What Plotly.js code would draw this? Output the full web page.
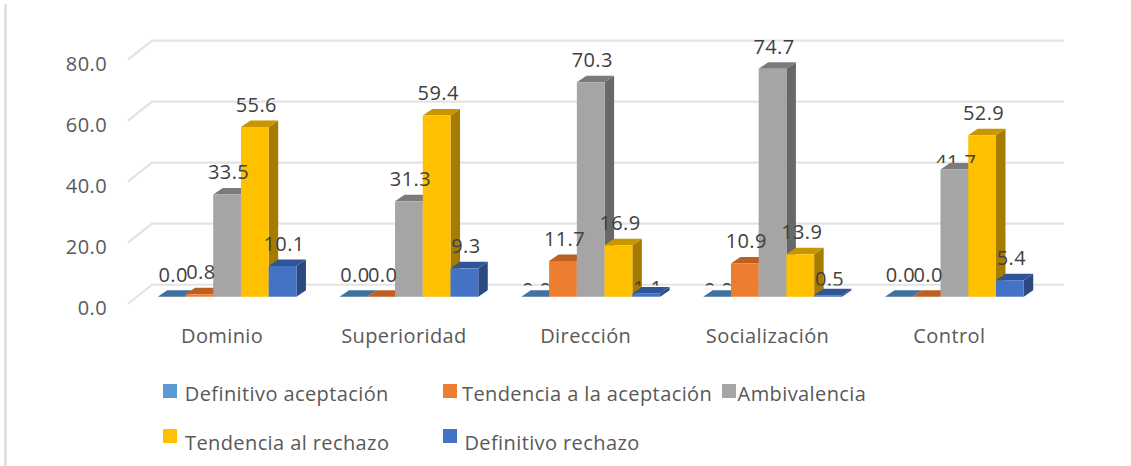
<!DOCTYPE html>
<html><head><meta charset="utf-8">
<script src="https://cdn.plot.ly/plotly-3.0.1.min.js"></script>
<style>html,body{margin:0;padding:0;background:#fff}#c{width:1131px;height:466px}
#c svg text{letter-spacing:.4px}</style>
</head><body><div id="c"></div>
<script>
const categories = ["Dominio","Superioridad","Dirección","Socialización","Control"];
const seriesNames = ["Definitivo aceptación","Tendencia a la aceptación","Ambivalencia","Tendencia al rechazo","Definitivo rechazo"];
const definitivoAceptacion = [0.0,0.0,0.0,0.0,0.0];
const tendenciaAceptacion = [0.8,0.0,11.7,10.9,0.0];
const ambivalencia = [33.5,31.3,70.3,74.7,41.7];
const tendenciaRechazo = [55.6,59.4,16.9,13.9,52.9];
const definitivoRechazo = [10.1,9.3,1.1,0.5,5.4];
const series = [definitivoAceptacion,tendenciaAceptacion,ambivalencia,tendenciaRechazo,definitivoRechazo];
const frontColors = ["#5B9BD5","#ED7D31","#A5A5A5","#FFC000","#4472C4"];
const topColors = ["#41719C","#BE5F22","#7B7B7B","#C79600","#2F5597"];
const sideColors = ["#35608A","#9E5020","#686868","#A67C00","#2A4A80"];
const yTicks = [0,20,40,60,80];

// layout geometry
const L=118,R=13,T=22,B=154,W=1131-L-R,H=466-T-B;
const xMin=-0.6,xMax=4.9,yMin=-5,yMax=90;
const pxX=W/(xMax-xMin), pxY=H/(yMax-yMin);
const gap=0.237, bw=(1-gap)/5;
const dx=9.5/pxX, dy=6.5/pxY;
const labelFontSize=20;
const labelLift=20/pxY;
// labels the reference places closer to their bar, as [series, category, px above the bar top]
const labelOverride=[[2,4,5],[0,2,5],[0,3,5],[4,2,3],[4,3,14]];
// labels cut off from below in the reference, as [series, category, cut line y in px]
const labelClip=[[2,4,163],[0,2,285.5],[0,3,285.5],[4,2,285.5],[4,3,285.5]];

const shapes=[];
const poly=(pts,color,layer)=>shapes.push({type:"path",xref:"x",yref:"y",layer:layer||"below",
  path:"M"+pts.map(p=>p[0]+","+p[1]).join("L")+"Z",fillcolor:color,line:{width:0}});

// gridlines on the back wall with slanted side wall
const gx0=(128-L)/pxX+xMin, gx1=(152-L)/pxX+xMin, gx2=(1064-L)/pxX+xMin;
const frontDrop=7/pxY, backLift=12/pxY;
yTicks.forEach(v=>shapes.push({type:"path",xref:"x",yref:"y",layer:"below",
  path:`M${gx0},${v-frontDrop}L${gx1},${v+backLift}L${gx2},${v+backLift}`,
  line:{color:"#E3E3E3",width:2.2}}));

// depth faces of each bar
series.forEach((vals,s)=>vals.forEach((v,c)=>{
  const x0=c+(s-2.5)*bw, x1=x0+bw;
  if(v>0) poly([[x1,0],[x1+dx,dy],[x1+dx,v+dy],[x1,v]],sideColors[s]);
  poly([[x0,v],[x0+dx,v+dy],[x1+dx,v+dy],[x1,v]],topColors[s]);
}));

// frame line at the left of the picture
const pX=p=>(p-L)/W, pY=p=>1-(p-T)/H;
shapes.push({type:"line",xref:"paper",yref:"paper",x0:pX(5.5),x1:pX(5.5),y0:pY(4),y1:pY(466),
  line:{color:"#DEDEDE",width:2.5}});

// legend
const legendPos=[[163,384],[443,384],[722,384],[163,429],[443,429]];
const legendText=[[185,394],[463,394],[736,394],[185,442],[464,442]];
const annotations=[];
seriesNames.forEach((n,i)=>{
  const [a,b]=legendPos[i];
  shapes.push({type:"rect",xref:"paper",yref:"paper",x0:pX(a),x1:pX(a+14),y0:pY(b),y1:pY(b+14),
    fillcolor:frontColors[i],line:{width:0}});
  annotations.push({xref:"paper",yref:"paper",x:pX(legendText[i][0]),y:pY(legendText[i][1]),
    xanchor:"left",yanchor:"middle",showarrow:false,text:n,xshift:2,
    font:{family:"Open Sans",size:20,color:"#595959"}});
});

const traces=[];
series.forEach((vals,s)=>traces.push({type:"bar",name:seriesNames[s],
  x:categories.map((_,c)=>c),y:vals,marker:{color:frontColors[s],line:{width:0}},
  showlegend:false,hoverinfo:"skip"}));
series.forEach((vals,s)=>traces.push({type:"scatter",mode:"text",
  x:vals.map((_,c)=>c+(s-2)*bw+1.5/pxX),
  y:vals.map((v,c)=>{
    const o=labelOverride.find(e=>e[0]===s&&e[1]===c);
    return v+(o?o[2]/pxY:labelLift);
  }),
  text:vals.map(v=>v.toFixed(1)),textposition:"middle center",cliponaxis:false,
  textfont:{family:"Open Sans",size:labelFontSize,color:"#404040"},
  showlegend:false,hoverinfo:"skip"}));

const layout={width:1131,height:466,margin:{l:L,r:R,t:T,b:B,pad:0},
  paper_bgcolor:"#fff",plot_bgcolor:"rgba(0,0,0,0)",showlegend:false,
  barmode:"group",bargap:gap,bargroupgap:0,shapes,annotations,
  xaxis:{range:[xMin,xMax],tickmode:"array",tickvals:categories.map((_,c)=>c),ticktext:categories,
    showgrid:false,zeroline:false,showline:false,ticks:"",ticklabelshift:-5,ticklabelstandoff:10,
    tickfont:{family:"Open Sans",size:20,color:"#595959"}},
  yaxis:{range:[yMin,yMax],tickmode:"array",tickvals:yTicks,ticktext:yTicks.map(v=>v.toFixed(1)),
    showgrid:false,zeroline:false,showline:false,ticks:"",ticklabelshift:11,ticklabelstandoff:10,
    tickfont:{family:"Open Sans",size:20,color:"#595959"}}};

Plotly.newPlot("c",traces,layout,{displayModeBar:false,staticPlot:true}).then(gd=>{
  const root=gd.querySelector(".main-svg");
  const svgTop=root.getBoundingClientRect().top;
  const groups=gd.querySelectorAll(".scatterlayer .trace");
  labelClip.forEach(([s,c,y])=>{
    const t=groups[s].querySelectorAll(".textpoint text")[c];
    const r=t.getBoundingClientRect();
    const cut=Math.max(0,r.bottom-svgTop-y);
    t.style.clipPath=`inset(0 0 ${cut}px 0)`;
  });
});
</script></body></html>
